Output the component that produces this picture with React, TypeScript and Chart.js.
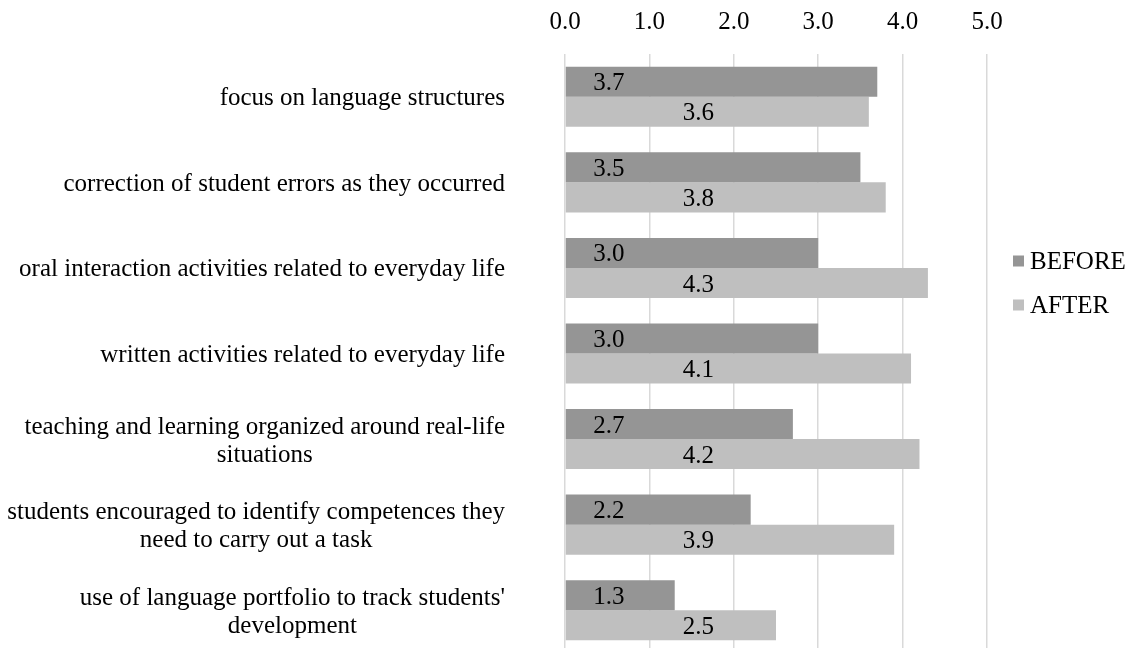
import React, { useEffect, useRef } from "react";
import { Chart, registerables } from "chart.js";

Chart.register(...registerables);

const categories: string[][] = [
  ["focus on language structures"],
  ["correction of student errors as they occurred"],
  ["oral interaction activities related to everyday life"],
  ["written activities related to everyday life"],
  ["teaching and learning organized around real-life", "situations"],
  ["students encouraged to identify competences they", "need to carry out a task"],
  ["use of language portfolio to track students'", "development"],
];
const beforeValues = [3.7, 3.5, 3.0, 3.0, 2.7, 2.2, 1.3];
const afterValues = [3.6, 3.8, 4.3, 4.1, 4.2, 3.9, 2.5];
const seriesNames = ["BEFORE", "AFTER"];
const xTicks = [0, 1, 2, 3, 4, 5];

const FONT = '"Liberation Serif", "Times New Roman", serif';
const FONT_SIZE = 25;
const COLORS = ["#959595", "#BFBFBF"];
// label anchor (axis units) used for the value labels of each series
const LABEL_ANCHOR = [0.52, 1.58];

const overlay = {
  id: "overlay",
  afterDatasetsDraw(chart: any) {
    const ctx = chart.ctx;
    const xs = chart.scales.x;
    ctx.save();
    ctx.font = `${FONT_SIZE}px ${FONT}`;
    ctx.fillStyle = "#000";
    ctx.textAlign = "center";
    ctx.textBaseline = "middle";
    chart.data.datasets.forEach((ds: any, di: number) => {
      const meta = chart.getDatasetMeta(di);
      meta.data.forEach((bar: any, i: number) => {
        const v = ds.data[i];
        ctx.fillText(v.toFixed(1), xs.getPixelForValue(LABEL_ANCHOR[di]), bar.y + 2);
      });
    });
    ctx.restore();
  },
  afterDraw(chart: any) {
    const ctx = chart.ctx;
    const ys = chart.scales.y;
    ctx.save();
    ctx.font = `${FONT_SIZE}px ${FONT}`;
    ctx.fillStyle = "#000";
    ctx.textBaseline = "middle";
    ctx.textAlign = "center";
    const right = 505;
    const lh = 28;
    categories.forEach((lines, i) => {
      const cy = ys.getPixelForValue(i);
      const maxW = Math.max(...lines.map((l) => ctx.measureText(l).width));
      const cx = right - maxW / 2;
      const y0 = cy - ((lines.length - 1) * lh) / 2 + 2;
      lines.forEach((l, k) => ctx.fillText(l, cx, y0 + k * lh));
    });
    // legend
    ctx.textAlign = "left";
    const legY = [261, 305];
    seriesNames.forEach((n, i) => {
      ctx.fillStyle = COLORS[i];
      ctx.fillRect(1013, legY[i] - 5.5, 11, 11);
      ctx.fillStyle = "#000";
      ctx.fillText(n, 1030, legY[i] + 1);
    });
    ctx.restore();
  },
};

export default function App() {
  const ref = useRef<HTMLCanvasElement>(null);
  useEffect(() => {
    document.body.style.margin = "0";
    document.body.style.overflow = "hidden";
    const chart = new Chart(ref.current!, {
      type: "bar",
      data: {
        labels: categories.map((c) => c.join(" ")),
        datasets: [
          { label: seriesNames[0], data: beforeValues, backgroundColor: COLORS[0] },
          { label: seriesNames[1], data: afterValues, backgroundColor: COLORS[1] },
        ],
      },
      options: {
        indexAxis: "y",
        responsive: false,
        animation: false,
        devicePixelRatio: 1,
        layout: { padding: { left: 565, right: 146, top: 0, bottom: 0 } },
        datasets: { bar: { categoryPercentage: 0.702, barPercentage: 1 } },
        plugins: { legend: { display: false }, tooltip: { enabled: false } },
        scales: {
          x: {
            position: "top",
            min: 0,
            max: 5,
            afterFit: (s: any) => {
              s.height = 54;
            },
            afterBuildTicks: (s: any) => {
              s.ticks = xTicks.map((v) => ({ value: v }));
            },
            ticks: {
              callback: (v: any) => Number(v).toFixed(1),
              font: { family: FONT, size: FONT_SIZE },
              color: "#000",
              padding: 17,
              maxRotation: 0,
            },
            grid: { color: "#D9D9D9", lineWidth: 1.5, drawTicks: false },
            border: { display: false },
          },
          y: {
            afterFit: (s: any) => {
              s.width = 0;
            },
            ticks: { display: false },
            grid: { display: false, drawTicks: false },
            border: { display: false },
          },
        },
      },
      plugins: [overlay],
    } as any);
    return () => chart.destroy();
  }, []);
  return (
    <div style={{ position: "fixed", left: 0, top: 0, width: 1133, height: 648, overflow: "hidden", background: "#fff" }}>
      <canvas ref={ref} width={1133} height={653} style={{ width: 1133, height: 653, display: "block" }} />
    </div>
  );
}
